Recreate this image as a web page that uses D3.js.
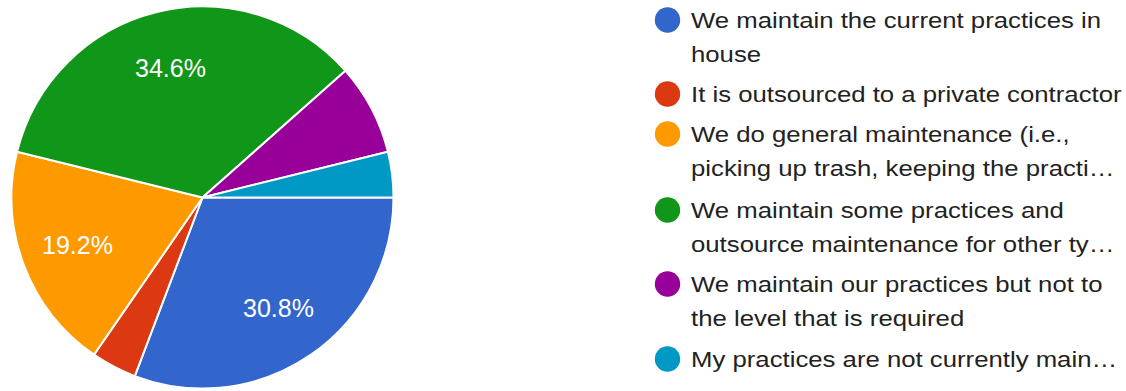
<!DOCTYPE html>
<html>
<head>
<meta charset="utf-8">
<script src="https://cdn.jsdelivr.net/npm/d3@7"></script>
<style>
  html, body { margin: 0; padding: 0; background: #fff; }
  svg { display: block; }
</style>
</head>
<body>
<svg id="chart" width="1126" height="391"></svg>
<script>
// Survey responses: how practices are maintained
const categories = [
  "We maintain the current practices in house",
  "It is outsourced to a private contractor",
  "We do general maintenance (i.e., picking up trash, keeping the practi…",
  "We maintain some practices and outsource maintenance for other ty…",
  "We maintain our practices but not to the level that is required",
  "My practices are not currently main…"
];
// Legend text as wrapped lines
const legendLines = [
  ["We maintain the current practices in", "house"],
  ["It is outsourced to a private contractor"],
  ["We do general maintenance (i.e.,", "picking up trash, keeping the practi…"],
  ["We maintain some practices and", "outsource maintenance for other ty…"],
  ["We maintain our practices but not to", "the level that is required"],
  ["My practices are not currently main…"]
];
const counts = [8, 1, 5, 9, 2, 1];
const colors = ["#3366cc", "#dc3912", "#ff9900", "#109618", "#990099", "#0099c6"];

const svg = d3.select("#chart");
const font = "Arial, 'Liberation Sans', sans-serif";

const cx = 202.5, cy = 197.5, radius = 191;
const total = d3.sum(counts);

// Slices start at 3 o'clock and run clockwise
const pie = d3.pie()
  .value(d => d)
  .sort(null)
  .startAngle(Math.PI / 2)
  .endAngle(Math.PI / 2 + 2 * Math.PI);

const arcs = pie(counts);
const arc = d3.arc().innerRadius(0).outerRadius(radius);
const labelArc = d3.arc().innerRadius(radius * 0.7).outerRadius(radius * 0.7);

const g = svg.append("g").attr("transform", `translate(${cx},${cy})`);

g.selectAll("path.slice")
  .data(arcs)
  .join("path")
  .attr("class", "slice")
  .attr("d", arc)
  .attr("fill", (d, i) => colors[i])
  .attr("stroke", "#fff")
  .attr("stroke-width", 2)
  .attr("stroke-linejoin", "round");

const pct = v => (v / total * 100).toFixed(1) + "%";

// Percentage labels only on slices wide enough to hold them
g.selectAll("text.pct")
  .data(arcs.filter(d => d.value / total > 0.1))
  .join("text")
  .attr("class", "pct")
  .attr("transform", d => `translate(${labelArc.centroid(d)})`)
  .attr("text-anchor", "middle")
  .attr("dy", "0.36em")
  .attr("fill", "#fff")
  .style("font-family", font)
  .style("font-size", "25px")
  .text(d => pct(d.value));

// Legend: wide-set text, drawn with a horizontal stretch
const legendBaselines = [28, 102, 142, 218, 292, 367];
const lineH = 34;
const textX = 691, stretch = 1.17;
const lg = svg.append("g");
categories.forEach((c, i) => {
  const item = lg.append("g");
  item.append("circle")
    .attr("cx", 667.5)
    .attr("cy", legendBaselines[i] - 8)
    .attr("r", 12.7)
    .attr("fill", colors[i]);
  const t = item.append("text")
    .attr("transform", `translate(${textX},0) scale(${stretch},1)`)
    .attr("fill", "#222")
    .style("font-family", font)
    .style("font-size", "22px");
  legendLines[i].forEach((line, j) => {
    t.append("tspan").attr("x", 0).attr("y", legendBaselines[i] + j * lineH).text(line);
  });
  item.append("title").text(c);
});
</script>
</body>
</html>
